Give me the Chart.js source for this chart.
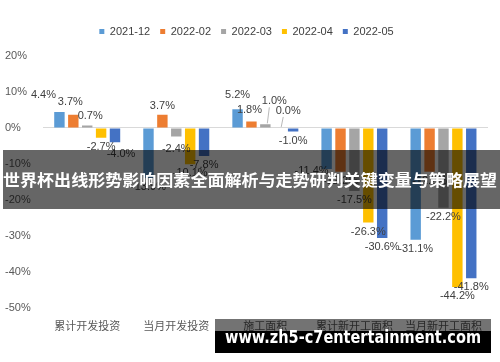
<!DOCTYPE html>
<html>
<head>
<meta charset="utf-8">
<script src="https://cdn.jsdelivr.net/npm/chart.js@4"></script>
<style>
  html, body { margin: 0; padding: 0; background: #fff; }
  .wrap { position: relative; width: 500px; height: 362px; overflow: hidden; }
  canvas { display: block; }
  .banner {
    position: absolute; left: 3px; top: 150px; width: 497px; height: 59px;
    background: rgba(0,0,0,0.6); color: #fff;
    font-family: "Noto Sans CJK SC", sans-serif; font-weight: bold; font-size: 16.4px;
    line-height: 59px; white-space: nowrap;
  }
  .banner span { display: inline-block; transform-origin: 0 50%; }
  .mark {
    position: absolute; left: 215px; top: 319px; width: 276px; height: 34px;
    background: linear-gradient(to bottom, rgba(0,0,0,0.55) 0, rgba(0,0,0,0.55) 12px, #000 12px);
  }
  .mark span {
    position: absolute; left: 10px; top: 8px; color: #fff; white-space: nowrap;
    font-family: "DejaVu Sans", sans-serif; font-weight: bold; font-size: 17px;
    transform-origin: 0 0;
  }
</style>
</head>
<body>
<div class="wrap">
  <canvas id="chart" width="500" height="362"></canvas>
  <div class="banner"><span id="bannerText">世界杯出线形势影响因素全面解析与走势研判关键变量与策略展望</span></div>
  <div class="mark"><span id="markText">www.zh5-c7entertainment.com</span></div>
</div>
<script>
// categories and series (%, year on year)
const categories = ['累计开发投资', '当月开发投资', '施工面积', '累计新开工面积', '当月新开工面积'];
const seriesNames = ['2021-12', '2022-02', '2022-03', '2022-04', '2022-05'];
const s202112 = [4.4, -13.9, 5.2, -11.4, -31.1];
const s202202 = [3.7, 3.7, 1.8, -12.2, -12.2];
const s202203 = [0.7, -2.4, 1.0, -17.5, -22.2];
const s202204 = [-2.7, -10.1, 0.0, -26.3, -44.2];
const s202205 = [-4.0, -7.8, -1.0, -30.6, -41.8];
const yTicks = [20, 10, 0, -10, -20, -30, -40, -50];

const colors = ['#5B9BD5', '#ED7D31', '#A5A5A5', '#FFC000', '#4472C4'];
const values = [s202112, s202202, s202203, s202204, s202205];

// hand moved labels, as in the source chart ('series-category')
const nudges = {
  '0-0': { dx: -16, dy: -8 },
  '1-0': { dx: -3, dy: -4 },
  '2-0': { dx: 3, dy: 0 },
  '4-0': { dx: 6, dy: 3 },
  '0-2': { dx: 0, dy: -5 },
  '1-2': { dx: -2, dy: -2 },
  '2-2': { dx: 9, dy: -14, leader: true },
  '3-2': { dx: 9, dy: -8, leader: true },
  '2-1': { dx: 0, dy: 3 },
  '0-3': { dx: -15, dy: -7 }
};

const labelFont = '11px "Liberation Sans", Arial, sans-serif';

// draws the value labels at bar ends
const valueLabels = {
  id: 'valueLabels',
  afterDatasetsDraw(chart) {
    const ctx = chart.ctx;
    ctx.save();
    ctx.font = labelFont;
    ctx.textAlign = 'center';
    ctx.textBaseline = 'middle';
    chart.data.datasets.forEach((ds, i) => {
      const meta = chart.getDatasetMeta(i);
      meta.data.forEach((bar, j) => {
        const v = ds.data[j];
        const txt = v.toFixed(1) + '%';
        const n = nudges[i + '-' + j] || { dx: 0, dy: 0 };
        const x = bar.x + n.dx;
        const y = (v >= 0 ? bar.y - 9 : bar.y + 9) + n.dy;
        if (n.leader) {
          ctx.strokeStyle = '#A6A6A6';
          ctx.lineWidth = 0.8;
          ctx.beginPath();
          ctx.moveTo(bar.x + 2, bar.y - 1);
          ctx.lineTo(x - 5, y + 6);
          ctx.stroke();
        }
        ctx.fillStyle = '#404040';
        ctx.fillText(txt, x, y);
      });
    });
    ctx.restore();
  }
};

// extra room under the legend
const legendGap = {
  id: 'legendGap',
  beforeInit(chart) {
    const fit = chart.legend.fit;
    chart.legend.fit = function () {
      fit.bind(chart.legend)();
      this.height += 9;
    };
  }
};

new Chart(document.getElementById('chart'), {
  type: 'bar',
  data: {
    labels: categories,
    datasets: seriesNames.map((name, i) => ({
      label: name,
      data: values[i],
      backgroundColor: colors[i],
      categoryPercentage: 0.78,
      barPercentage: 0.75
    }))
  },
  options: {
    responsive: false,
    animation: false,
    layout: { padding: { left: 5, right: 12, top: 16, bottom: 27 } },
    plugins: {
      legend: {
        position: 'top',
        labels: {
          boxWidth: 5, boxHeight: 5, padding: 10,
          color: '#404040',
          font: { family: '"Liberation Sans", Arial, sans-serif', size: 11 }
        }
      },
      tooltip: { enabled: false }
    },
    scales: {
      x: {
        grid: { display: false },
        border: { display: false },
        ticks: {
          color: '#595959', padding: 3,
          font: { family: '"Noto Sans CJK SC", sans-serif', size: 11 }
        }
      },
      y: {
        min: -50, max: 20,
        afterBuildTicks(axis) { axis.ticks = yTicks.map(v => ({ value: v })); },
        grid: {
          drawTicks: false,
          color: (c) => c.tick && c.tick.value === 0 ? '#D9D9D9' : 'rgba(0,0,0,0)'
        },
        border: { display: false },
        ticks: {
          color: '#595959', padding: 6, crossAlign: 'far',
          font: { family: '"Liberation Sans", Arial, sans-serif', size: 11 },
          callback: (v) => v + '%'
        }
      }
    }
  },
  plugins: [valueLabels, legendGap]
});

// stretch overlay texts to the widths seen in the picture
const fitWidth = (el, target) => {
  const w = el.getBoundingClientRect().width;
  el.style.transform = 'scaleX(' + (target / w) + ')';
};
fitWidth(document.getElementById('bannerText'), 494);
fitWidth(document.getElementById('markText'), 256);
</script>
</body>
</html>
